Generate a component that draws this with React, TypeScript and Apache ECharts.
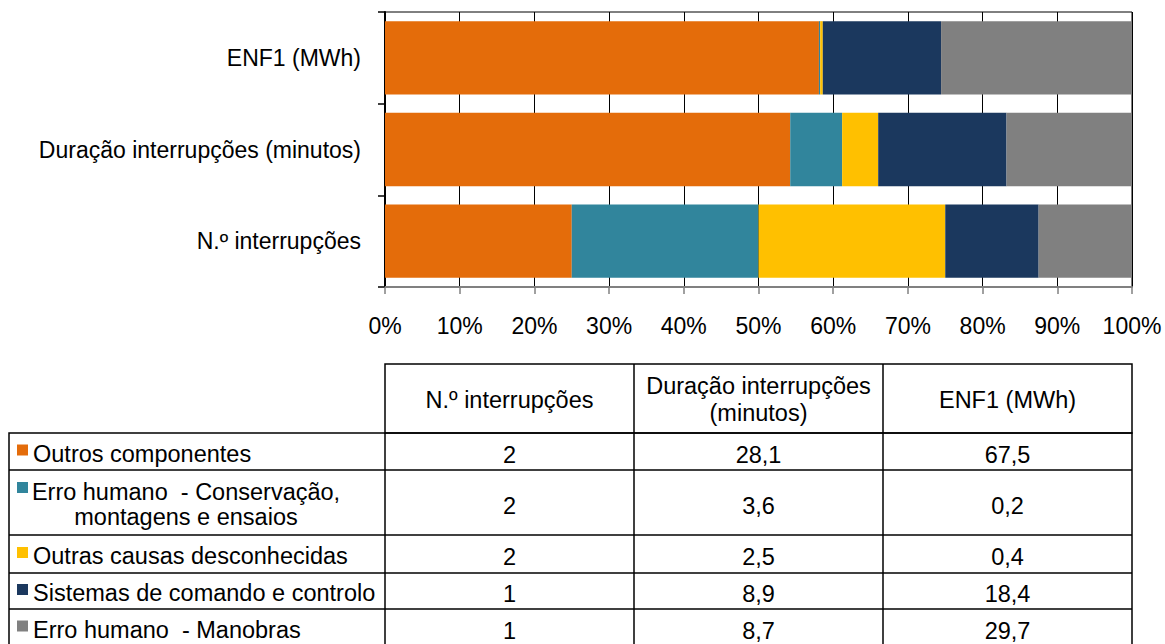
import React, { useEffect, useRef } from "react";
import * as echarts from "echarts";

// ---- data ----
const barCategories = ["N.º interrupções", "Duração interrupções (minutos)", "ENF1 (MWh)"];
const columnHeaders = ["N.º interrupções", "Duração interrupções\n(minutos)", "ENF1 (MWh)"];
const causeNames = [
  "Outros componentes",
  "Erro humano  - Conservação,\nmontagens e ensaios",
  "Outras causas desconhecidas",
  "Sistemas de comando e controlo",
  "Erro humano  - Manobras",
];
const causeColors = ["#E46C0A", "#31859C", "#FFC000", "#1B385E", "#808080"];
const nInterrupcoes = [2, 2, 2, 1, 1];
const duracaoMinutos = [28.1, 3.6, 2.5, 8.9, 8.7];
const enf1MWh = [67.5, 0.2, 0.4, 18.4, 29.7];
const xTickValues = [0, 10, 20, 30, 40, 50, 60, 70, 80, 90, 100];

const FONT = "'Liberation Sans', Arial, sans-serif";

export default function App() {
  const ref = useRef<HTMLDivElement>(null);

  useEffect(() => {
    if (!ref.current) return;
    const chart = echarts.init(ref.current, null, { renderer: "svg" });

    const W = 1165;
    const gridLeft = 385;
    const gridRight = 33;
    const gridTop = 12;
    const gridBottom = 357;
    const plotW = W - gridLeft - gridRight;

    const sum = (a: number[]) => a.reduce((s, v) => s + v, 0);
    const totN = sum(nInterrupcoes);
    const totD = sum(duracaoMinutos);
    const totE = sum(enf1MWh);

    const series = causeNames.map((name, i) => ({
      name,
      type: "bar",
      stack: "total",
      barCategoryGap: "20%",
      itemStyle: { color: causeColors[i] },
      data: [
        (nInterrupcoes[i] / totN) * 100,
        (duracaoMinutos[i] / totD) * 100,
        (enf1MWh[i] / totE) * 100,
      ],
    }));

    // ---- table ----
    const colX = [9, gridLeft, gridLeft + plotW / 3, gridLeft + (2 * plotW) / 3, gridLeft + plotW];
    const headerTop = 364;
    const rowY = [433, 470, 535, 573, 609, 646];
    const lw = 1.5;
    const lineStyle = { stroke: "#000", lineWidth: lw };
    const graphics: any[] = [];
    const tFont = `23.5px ${FONT}`;

    graphics.push({
      type: "rect",
      shape: { x: colX[1], y: headerTop, width: colX[4] - colX[1], height: rowY[0] - headerTop },
      style: { fill: "none", ...lineStyle },
    });
    for (let c = 2; c <= 3; c++) {
      graphics.push({ type: "line", shape: { x1: colX[c], y1: headerTop, x2: colX[c], y2: rowY[0] }, style: lineStyle });
    }
    graphics.push({
      type: "rect",
      shape: { x: colX[0], y: rowY[0], width: colX[4] - colX[0], height: rowY[5] - rowY[0] },
      style: { fill: "none", ...lineStyle },
    });
    for (let r = 1; r <= 4; r++) {
      graphics.push({ type: "line", shape: { x1: colX[0], y1: rowY[r], x2: colX[4], y2: rowY[r] }, style: lineStyle });
    }
    for (let c = 1; c <= 3; c++) {
      graphics.push({ type: "line", shape: { x1: colX[c], y1: rowY[0], x2: colX[c], y2: rowY[5] }, style: lineStyle });
    }
    columnHeaders.forEach((h, c) => {
      graphics.push({
        type: "text",
        x: (colX[c + 1] + colX[c + 2]) / 2,
        y: (headerTop + rowY[0]) / 2 + 1,
        style: { text: h, font: tFont, fill: "#000", align: "center", verticalAlign: "middle", lineHeight: 27 },
      });
    });
    const fmt1 = (v: number) => v.toFixed(1).replace(".", ",");
    causeNames.forEach((name, r) => {
      const cy = (rowY[r] + rowY[r + 1]) / 2 + 2;
      const multi = name.includes("\n");
      graphics.push({
        type: "rect",
        shape: { x: 17, y: multi ? rowY[r] + 12 : cy - 9, width: 11, height: 11 },
        style: { fill: causeColors[r] },
      });
      graphics.push({
        type: "text",
        x: multi ? 186 : 33,
        y: cy,
        style: {
          text: name,
          font: tFont,
          fill: "#000",
          align: multi ? "center" : "left",
          verticalAlign: "middle",
          lineHeight: 25,
        },
      });
      const vals = [String(nInterrupcoes[r]), fmt1(duracaoMinutos[r]), fmt1(enf1MWh[r])];
      vals.forEach((v, c) => {
        graphics.push({
          type: "text",
          x: (colX[c + 1] + colX[c + 2]) / 2,
          y: cy + 1,
          style: { text: v, font: tFont, fill: "#000", align: "center", verticalAlign: "middle" },
        });
      });
    });

    chart.setOption({
      animation: false,
      textStyle: { fontFamily: FONT },
      grid: {
        left: gridLeft,
        right: gridRight,
        top: gridTop,
        bottom: gridBottom,
        show: true,
        borderColor: "#000",
        borderWidth: 1,
        backgroundColor: "transparent",
      },
      xAxis: {
        type: "value",
        min: 0,
        max: 100,
        interval: 10,
        axisLine: { show: true, lineStyle: { color: "#808080", width: 2 } },
        axisTick: { show: true, length: 7, lineStyle: { color: "#808080", width: 1.5 } },
        splitLine: { show: true, lineStyle: { color: "#000", width: 1 } },
        axisLabel: {
          margin: 27,
          fontSize: 23,
          color: "#000",
          fontFamily: FONT,
          formatter: (v: number) => (xTickValues.includes(v) ? `${v}%` : ""),
        },
      },
      yAxis: {
        type: "category",
        data: barCategories,
        axisLine: { show: true, lineStyle: { color: "#000", width: 2 } },
        axisTick: { show: true, length: 7, lineStyle: { color: "#000", width: 1.5 } },
        axisLabel: { margin: 24, fontSize: 23, color: "#000", fontFamily: FONT },
      },
      series,
      graphic: { elements: graphics },
    });

    return () => chart.dispose();
  }, []);

  return (
    <div
      ref={ref}
      style={{ position: "fixed", left: 0, top: 0, width: 1165, height: 644, background: "#fff" }}
    />
  );
}
